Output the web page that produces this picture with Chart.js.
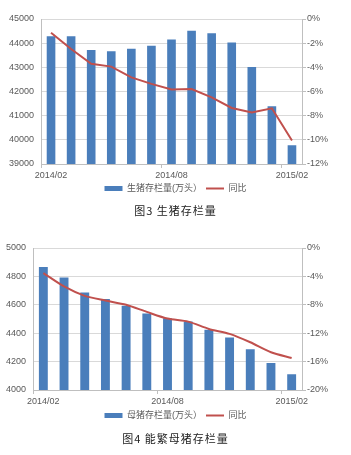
<!DOCTYPE html>
<html><head><meta charset="utf-8">
<script src="https://cdn.jsdelivr.net/npm/chart.js@4/dist/chart.umd.min.js"></script>
<style>
html,body{margin:0;padding:0;background:#fff;width:351px;height:455px;overflow:hidden;position:relative;}
canvas{position:absolute;left:0;}
.cap{position:absolute;left:0;width:351px;text-align:center;font-family:"Noto Sans CJK SC",serif;font-size:11px;color:#222;letter-spacing:1px;}
</style></head><body>
<canvas id="c1" width="351" height="203" style="top:0"></canvas>
<div class="cap" style="top:202px">图3 生猪存栏量</div>
<canvas id="c2" width="351" height="200" style="top:230px"></canvas>
<div class="cap" style="top:430px">图4 能繁母猪存栏量</div>
<script>
const months = ['2014/02','2014/03','2014/04','2014/05','2014/06','2014/07','2014/08','2014/09','2014/10','2014/11','2014/12','2015/01','2015/02'];
const hogStock = [44290,44290,43720,43670,43765,43890,44150,44510,44410,44025,43010,41390,39775];
const hogYoY = [-1.13,-2.48,-3.7,-3.94,-4.83,-5.37,-5.84,-5.79,-6.48,-7.36,-7.74,-7.39,-10.06];
const sowStock = [4866,4793,4687,4640,4593,4539,4506,4482,4424,4370,4287,4190,4111];
const sowYoY = [-3.53,-5.42,-6.74,-7.4,-8.0,-9.0,-9.94,-10.37,-11.4,-12.1,-13.28,-14.69,-15.5];
const hogLabel = '生猪存栏量(万头）';
const sowLabel = '母猪存栏量(万头）';
const yoyLabel = '同比';

const BLUE = '#4a7ebb', RED = '#c0504d', TXT = '#595959', GRID = '#d9d9d9', AXIS = '#bfbfbf';
const FONT = {family:'"Liberation Sans","Noto Sans CJK SC",sans-serif', size:9};

function make(id, labels, bars, line, barLabel, lmin, lmax, lstep, rmin, rmax, rstep, leftW, padTop, tension, xH){
  new Chart(document.getElementById(id), {
    data:{labels, datasets:[
      {type:'bar', label:barLabel, data:bars, backgroundColor:BLUE, yAxisID:'y', order:2,
       categoryPercentage:1, barPercentage:0.43},
      {type:'line', label:yoyLabel, data:line, borderColor:RED, backgroundColor:RED, borderWidth:2,
       pointRadius:0, tension:tension, yAxisID:'y1', order:1}
    ]},
    options:{
      responsive:false, animation:false,
      layout:{padding:{top:padTop,left:0,right:0,bottom:0}},
      plugins:{
        tooltip:{enabled:false},
        legend:{position:'bottom', labels:{
          color:TXT, font:FONT, usePointStyle:true, pointStyleWidth:18, boxHeight:5, padding:4,
          sort:(a,b)=>a.datasetIndex-b.datasetIndex,
          generateLabels(chart){
            const items = Chart.defaults.plugins.legend.labels.generateLabels(chart);
            return items.map(it=>{
              if(it.datasetIndex===0){ it.pointStyle='rect'; it.lineWidth=0; it.fillStyle=BLUE; it.strokeStyle=BLUE; }
              else { it.pointStyle='line'; it.lineWidth=2; it.strokeStyle=RED; }
              return it;
            });
          }
        }}
      },
      scales:{
        x:{offset:true,
           grid:{offset:true, drawOnChartArea:false, drawTicks:true, tickLength:4,
                 color:c=>(c.index%6===0?AXIS:'rgba(0,0,0,0)')},
           border:{color:AXIS},
           ticks:{color:TXT, font:FONT, autoSkip:false, maxRotation:0, padding:2,
                  callback:(v,i)=>(i%6===0?labels[i]:'')},
           afterFit:s=>{s.height=xH;}},
        y:{position:'left', min:lmin, max:lmax,
           ticks:{stepSize:lstep, color:TXT, font:FONT, padding:7, callback:v=>String(v)},
           grid:{color:GRID, drawTicks:false}, border:{color:AXIS},
           afterFit:s=>{s.width=leftW;}},
        y1:{position:'right', min:rmin, max:rmax,
           ticks:{stepSize:rstep, color:TXT, font:FONT, padding:1, callback:v=>v+'%'},
           grid:{drawOnChartArea:false, drawTicks:true, tickLength:4, color:AXIS}, border:{color:AXIS},
           afterFit:s=>{s.width=49;}}
      }
    }
  });
}
make('c1', months, hogStock, hogYoY, hogLabel, 39000, 45000, 1000, -12, 0, 2, 41, 19, 0, 16);
make('c2', months, sowStock, sowYoY, sowLabel, 4000, 5000, 200, -20, 0, 4, 33, 18, 0.25, 17);
</script>
</body></html>
